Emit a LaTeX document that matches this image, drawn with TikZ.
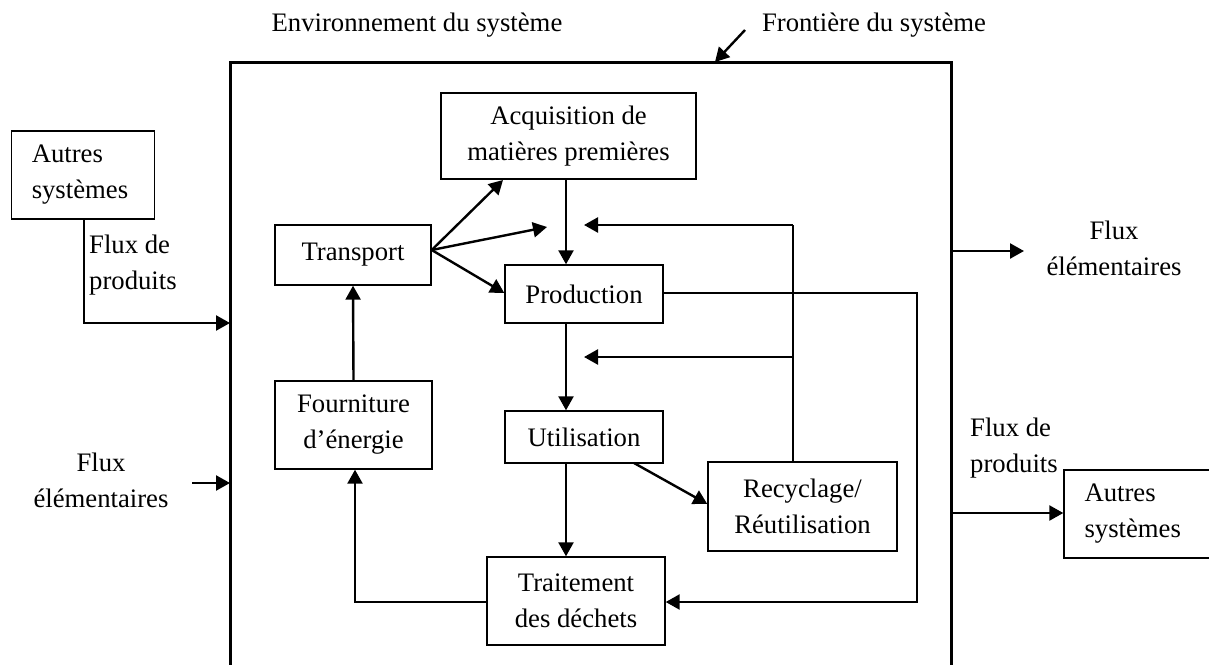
\documentclass[tikz,border=0pt]{standalone}
\usepackage{fontspec}
\setmainfont{Liberation Serif}
\usetikzlibrary{arrows.meta}
\begin{document}
\begin{tikzpicture}[x=1pt,y=-1pt,
  every node/.style={font=\fontsize{26.7}{36}\selectfont, inner sep=0pt},
  box/.style={draw, line width=1.4pt, align=center},
  lbl/.style={align=center},
  lbll/.style={align=left, anchor=west},
  flow/.style={line width=2.4pt, -{Triangle[length=14pt,width=15pt]}},
  line/.style={line width=2.4pt}]
\useasboundingbox (0,0) rectangle (1209,664);
\clip (0,0) rectangle (1209,664);
% system boundary
\draw[line width=3pt] (230,700) -- (230,62) -- (951,62) -- (951,700);
\coordinate (bL1) at (230,323);
\coordinate (bL2) at (230,483);
\coordinate (bR1) at (951,251);
\coordinate (bR2) at (951,513);
% titles
\node[lbl] (env) at (417,25) {Environnement du système};
\node[lbl] (front) at (874,25) {Frontière du système};
\coordinate (fa) at (745,30);
\coordinate (fb) at (715,62);
\draw[flow] (fa) -- (fb);
% outside boxes
\node[box, minimum width=142.5pt, minimum height=88pt, text width=102.5pt, align=left] (autresL) at (83,175) {Autres\\systèmes};
\node[box, minimum width=151pt, minimum height=88pt, text width=110pt, align=left] (autresR) at (1139.5,514) {Autres\\systèmes};
% outside labels
\node[lbll] (fpL) at (89,265) {Flux de\\produits};
\node[lbl] (feL) at (101,480) {Flux\\élémentaires};
\node[lbl] (feR) at (1114,248.5) {Flux\\élémentaires};
\node[lbll] (fpR) at (970,448) {Flux de\\produits};
% inner boxes
\node[box, minimum width=255pt, minimum height=86pt] (acq) at (568.5,136) {Acquisition de\\matières premières};
\node[box, minimum width=156pt, minimum height=60pt] (trans) at (353,255) {Transport};
\node[box, minimum width=158pt, minimum height=58pt] (prod) at (584,294) {Production};
\node[box, minimum width=157pt, minimum height=88pt] (four) at (353.5,425) {Fourniture\\d’énergie};
\node[box, minimum width=158pt, minimum height=52pt] (util) at (584,437) {Utilisation};
\node[box, minimum width=189pt, minimum height=89pt] (recy) at (802.5,506.5) {Recyclage/\\Réutilisation};
\node[box, minimum width=178pt, minimum height=88pt] (trait) at (576,601) {Traitement\\des déchets};
% coordinates
\coordinate (mid) at (547,227);
\coordinate (r1) at (793,225);
\coordinate (r2) at (793,357);
\coordinate (t1) at (584,225);
\coordinate (t2) at (584,357);
\coordinate (p1) at (917,293);
\coordinate (p2) at (917,602);
\coordinate (w1) at (355,602);
\coordinate (lA) at (84,323);
\coordinate (feLa) at (192,483);
\coordinate (feRa) at (1024,251);
% outside connectors
\draw[flow] (autresL.south -| lA) -- (lA) -- (bL1);
\draw[flow] (feLa) -- (bL2);
\draw[flow] (bR1) -- (feRa);
\draw[flow] (bR2) -- (autresR.west |- bR2);
% inner connectors
\draw[flow] (trans.east |- 0,250) -- (503,180);
\draw[flow] (trans.east |- 0,250) -- (mid);
\draw[flow] (trans.east |- 0,250) -- (prod.west |- 0,293);
\draw[flow] (acq.south -| 566,0) -- (prod.north -| 566,0);
\draw[flow] (prod.south -| 566,0) -- (util.north -| 566,0);
\draw[flow] (util.south -| 566,0) -- (trait.north -| 566,0);
\draw[flow] (634,463) -- (recy.west |- 0,504);
\draw[line] (recy.north -| r1) -- (r1);
\draw[flow] (r1) -- (t1);
\draw[flow] (r2) -- (t2);
\draw[flow] (prod.east |- p1) -- (p1) -- (p2) -- (trait.east |- p2);
\draw[flow] (trait.west |- w1) -- (w1) -- (four.south -| w1);
\draw[flow] (four.north) -- (trans.south);
\end{tikzpicture}
\end{document}
